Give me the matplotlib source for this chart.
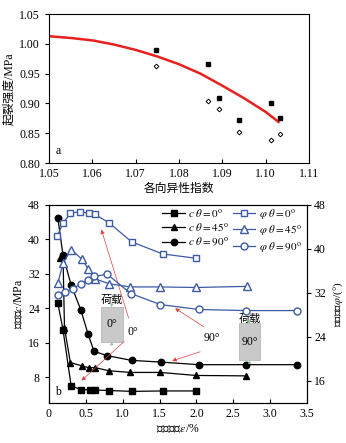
import numpy as np
import matplotlib
matplotlib.use("Agg")
import matplotlib.pyplot as plt
from matplotlib.patches import Rectangle

plt.rcParams['font.family'] = ['Liberation Serif', 'Noto Sans CJK SC']
plt.rcParams['mathtext.fontset'] = 'stix'
plt.rcParams['font.size'] = 8

# ---- panel a data ----
aniso = [1.0747, 1.0867, 1.0892, 1.0939, 1.1013, 1.1034]
ci_sq = [0.989, 0.967, 0.910, 0.872, 0.901, 0.8755]
ci_dm = [0.963, 0.905, 0.891, 0.852, 0.839, 0.848]
fit_x = [1.050, 1.055, 1.060, 1.065, 1.070, 1.075, 1.080, 1.085, 1.090, 1.095, 1.100, 1.103]
fit_y = [1.013, 1.010, 1.006, 0.999, 0.990, 0.979, 0.966, 0.950, 0.930, 0.909, 0.886, 0.869]

# ---- panel b data ----
c0_x = [0.12, 0.19, 0.30, 0.435, 0.55, 0.62, 0.81, 1.13, 1.54, 2.00]
c0_y = [25.2, 19.0, 6.0, 5.1, 5.05, 5.0, 4.9, 4.7, 4.8, 4.8]
c45_x = [0.15, 0.19, 0.21, 0.29, 0.45, 0.54, 0.63, 0.81, 1.10, 1.51, 1.99, 2.67]
c45_y = [35.6, 36.4, 19.4, 11.4, 10.6, 10.2, 10.2, 9.5, 9.1, 9.1, 8.4, 8.3]
c90_x = [0.12, 0.19, 0.30, 0.43, 0.53, 0.61, 0.79, 1.12, 1.52, 2.03, 2.67, 3.36]
c90_y = [45.0, 36.3, 29.4, 23.7, 18.0, 14.0, 13.0, 11.9, 11.5, 10.9, 10.9, 10.9]

p0_x = [0.11, 0.19, 0.29, 0.42, 0.54, 0.62, 0.81, 1.12, 1.54, 2.00]
p0_y = [42.3, 44.7, 46.5, 46.8, 46.5, 46.3, 44.8, 41.3, 39.1, 38.3]
p45_x = [0.12, 0.19, 0.30, 0.45, 0.53, 0.62, 0.81, 1.10, 1.51, 1.99, 2.68]
p45_y = [33.8, 37.4, 39.9, 38.1, 36.4, 34.6, 33.7, 33.1, 33.1, 33.0, 33.2]
p90_x = [0.12, 0.22, 0.32, 0.43, 0.53, 0.61, 0.79, 1.11, 1.51, 2.03, 2.67, 3.36]
p90_y = [31.6, 32.2, 32.8, 33.6, 34.4, 35.0, 35.4, 31.9, 29.9, 29.0, 28.8, 28.8]

blue = '#3c5aa8'
red = '#e8211e'
arrow_red = '#e04040'

fig = plt.figure(figsize=(3.46, 4.43), dpi=100)

# ---------------- panel a ----------------
ax1 = fig.add_axes([0.1416, 0.632, 0.751, 0.336])
ax1.plot(fit_x, fit_y, color=red, lw=1.8, zorder=2)
ax1.plot(aniso, ci_sq, 's', color='black', ms=3.2, zorder=3)
ax1.plot(aniso, ci_dm, 'D', mfc='white', mec='black', mew=0.7, ms=2.4, zorder=3)
ax1.set_xlim(1.05, 1.11)
ax1.set_ylim(0.80, 1.05)
ax1.set_xticks(np.arange(1.05, 1.115, 0.01))
ax1.set_yticks(np.arange(0.80, 1.051, 0.05))
ax1.xaxis.set_major_formatter(plt.FormatStrFormatter('%.2f'))
ax1.yaxis.set_major_formatter(plt.FormatStrFormatter('%.2f'))
ax1.tick_params(axis='x', direction='in', length=3, labelsize=8.5)
ax1.tick_params(axis='y', direction='out', length=3, labelsize=8.5)
ax1.set_xlabel('各向异性指数', fontsize=8.5, labelpad=2)
ax1.set_ylabel('起裂强度/MPa', fontsize=8.5, labelpad=3)
ax1.text(0.025, 0.06, 'a', transform=ax1.transAxes, fontsize=8.5)

# ---------------- panel b ----------------
ax2 = fig.add_axes([0.1416, 0.0903, 0.746, 0.447])
axr = ax2.twinx()

ax2.plot(c0_x, c0_y, '-s', color='black', lw=0.9, ms=4.3, label=r'$c\ \theta = 0^{\rm o}$')
ax2.plot(c45_x, c45_y, '-^', color='black', lw=0.9, ms=4.6, label=r'$c\ \theta = 45^{\rm o}$')
ax2.plot(c90_x, c90_y, '-o', color='black', lw=0.9, ms=4.6, label=r'$c\ \theta = 90^{\rm o}$')

axr.plot(p0_x, p0_y, '-s', color=blue, mfc='white', mec=blue, lw=0.9, ms=4.8,
         label=r'$\varphi\ \theta = 0^{\rm o}$')
axr.plot(p45_x, p45_y, '-^', color=blue, mfc='white', mec=blue, lw=0.9, ms=5.2,
         label=r'$\varphi\ \theta = 45^{\rm o}$')
axr.plot(p90_x, p90_y, '-o', color=blue, mfc='white', mec=blue, lw=0.9, ms=5.0,
         label=r'$\varphi\ \theta = 90^{\rm o}$')

ax2.set_xlim(0, 3.5)
ax2.set_ylim(2, 48)
axr.set_ylim(12, 48)
ax2.set_xticks(np.arange(0, 3.51, 0.5))
ax2.set_xticklabels(['0', '0.5', '1.0', '1.5', '2.0', '2.5', '3.0', '3.5'])
ax2.set_yticks([8, 16, 24, 32, 40, 48])
axr.set_yticks([16, 24, 32, 40, 48])
ax2.tick_params(axis='x', direction='in', length=3, labelsize=8.5)
ax2.tick_params(axis='y', direction='out', length=3, labelsize=8.5)
axr.tick_params(axis='y', direction='out', length=3, pad=2, labelsize=8.5)
ax2.set_xlabel(r'塑性应变$\varepsilon$/%', fontsize=8.5, labelpad=2)
ax2.set_ylabel(r'黏聚力$c$/MPa', fontsize=8.5, labelpad=2)
axr.set_ylabel(r'内摩擦角$\varphi$/(°)', fontsize=8, rotation=90)
axr.yaxis.set_label_coords(1.095, 0.5)
ax2.text(0.025, 0.04, 'b', transform=ax2.transAxes, fontsize=8.5)

h1, l1 = ax2.get_legend_handles_labels()
h2, l2 = axr.get_legend_handles_labels()
handles = [h1[0], h1[1], h1[2], h2[0], h2[1], h2[2]]
labels = [l1[0], l1[1], l1[2], l2[0], l2[1], l2[2]]
axr.legend(handles, labels, ncol=2, loc='upper right', frameon=False, fontsize=8,
           handlelength=2.0, handletextpad=0.3, columnspacing=0.4, labelspacing=0.25,
           borderaxespad=0.1, bbox_to_anchor=(1.0, 1.02))

# loading sketches
for (bx, by, bw, bh, lab, tx, ty) in [(0.70, 16.2, 0.30, 8.1, '0°', 0.85, 26.0),
                                      (2.58, 11.9, 0.28, 8.6, '90°', 2.72, 21.6)]:
    ax2.add_patch(Rectangle((bx, by), bw, bh, facecolor='#c9c9c9', edgecolor='#b0b0b0', lw=0.5, zorder=1))
    ax2.text(bx + bw / 2, by + bh / 2, lab, ha='center', va='center', fontsize=8.5, zorder=2)
    ax2.text(tx, ty, '荷载', ha='center', va='center', fontsize=8, style='italic', zorder=2)
    ax2.annotate('', xy=(bx + bw / 2, by + bh), xytext=(bx + bw / 2, by + bh + 1.0),
                 arrowprops=dict(arrowstyle='-|>', color='#8fc58f', lw=0.6, mutation_scale=4))
    ax2.annotate('', xy=(bx + bw / 2, by), xytext=(bx + bw / 2, by - 1.0),
                 arrowprops=dict(arrowstyle='-|>', color='#8fc58f', lw=0.6, mutation_scale=4))

ax2.text(1.14, 18.4, '0°', ha='center', va='center', fontsize=8.5)
ax2.text(2.21, 17.0, '90°', ha='center', va='center', fontsize=8.5)

arrows = [((1.08, 21.7), (0.71, 42.3)),
          ((1.02, 16.3), (0.44, 7.2)),
          ((2.10, 19.7), (1.71, 24.0)),
          ((2.05, 13.9), (1.67, 11.8))]
for (x0, y0), (x1, y1) in arrows:
    ax2.annotate('', xy=(x1, y1), xytext=(x0, y0),
                 arrowprops=dict(arrowstyle='-|>', color=arrow_red, lw=0.5, mutation_scale=6,
                                 shrinkA=0, shrinkB=0), zorder=5)

fig.savefig('out.png', dpi=100)
